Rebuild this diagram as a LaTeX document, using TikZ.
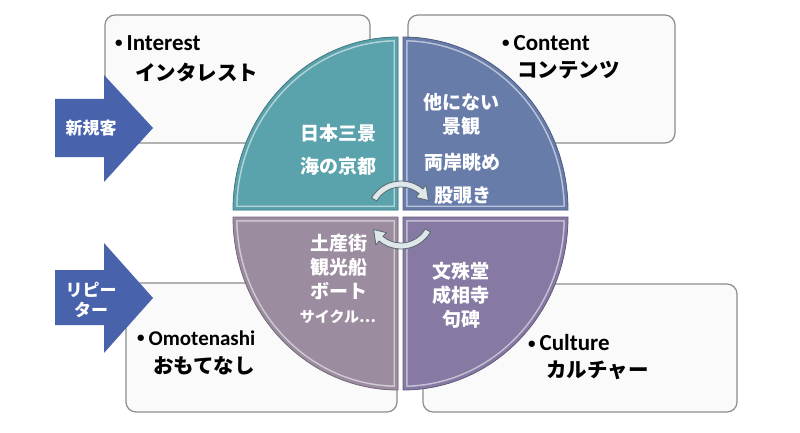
\documentclass[tikz,border=0pt]{standalone}
\usepackage{fontspec}
\setmainfont{Carlito}
\newfontfamily\jp{Noto Sans CJK JP}
\definecolor{qteal}{RGB}{90,162,172}
\definecolor{qblue}{RGB}{104,124,170}
\definecolor{qmauve}{RGB}{155,140,160}
\definecolor{qpurple}{RGB}{134,121,164}
\definecolor{arblue}{RGB}{72,98,172}
\definecolor{boxfill}{RGB}{250,250,250}
\definecolor{boxline}{RGB}{140,140,140}
\definecolor{rotfill}{RGB}{222,232,234}
\definecolor{rotline}{RGB}{90,104,110}
\newcommand{\dotmark}{\raisebox{2.5pt}{\fontsize{15}{15}\selectfont•}\hspace{4pt}}
\begin{document}
\begin{tikzpicture}[x=1pt,y=-1pt,
    card/.style={draw=boxline,fill=boxfill,line width=1.2pt,rounded corners=10pt},
    push/.style={fill=arblue},
    head/.style={font=\bfseries\fontsize{23}{26}\selectfont,inner sep=0pt,anchor=west},
    kana/.style={font=\jp\bfseries\fontsize{20.5}{24}\selectfont,inner sep=0pt,anchor=west},
    spot/.style={font=\jp\bfseries\fontsize{19}{24}\selectfont,text=white,inner sep=0pt,
        align=center},
    tag/.style={font=\jp\bfseries\fontsize{17}{20}\selectfont,text=white,inner sep=0pt,
        align=center},
    rot/.style={fill=rotfill,draw=rotline,line width=0.8pt}
]
    \useasboundingbox (0,0) rectangle (800,433);

    \draw[card] (105,15) rectangle (370,143);
    \draw[card] (408,15) rectangle (675,143);
    \draw[card] (126,283) rectangle (397,412);
    \draw[card] (423,284) rectangle (737,412);

    \fill[push] (55,99) -- (104,99) -- (104,75) -- (153,128) -- (104,182)
        -- (104,157) -- (55,157) -- cycle;
    \fill[push] (55,270) -- (104,270) -- (104,243) -- (153,298) -- (104,353)
        -- (104,325) -- (55,325) -- cycle;

    \foreach \cx/\cy/\a/\col in {398/210/180/qteal,403/210/270/qblue,
        398/217/90/qmauve,403/217/0/qpurple}{
        \def\qpath{(\cx,\cy) -- ++(\a:165 and 173)
            arc[start angle=\a,delta angle=90,x radius=165,y radius=173] -- cycle}
        \fill[\col] \qpath;
        \begin{scope}
            \clip \qpath;
            \draw[line width=9pt,white!55!\col] \qpath;
            \draw[line width=6pt,\col] \qpath;
        \end{scope}
        \draw[\col!75!black,line width=0.8pt] \qpath;
    }

    \begin{scope}[shift={(401,215)}]
        \draw[rot] (210:28) arc (210:310:28) -- (310:23) -- (332:31)
            -- (310:39) -- (310:34) arc (310:210:34) -- cycle;
        \draw[rot] (30:28) arc (30:130:28) -- (130:23) -- (152:31)
            -- (130:39) -- (130:34) arc (130:30:34) -- cycle;
    \end{scope}

    \node[head] (intr) at (115,43) {\dotmark Interest};
    \node[kana] (intrjp) at (135,73) {インタレスト};
    \node[head] (cont) at (502,43) {\dotmark Content};
    \node[kana] (contjp) at (517,70) {コンテンツ};
    \node[head,font=\bfseries\fontsize{21}{24}\selectfont] (omo) at (137,338)
        {\dotmark Omotenashi};
    \node[kana] (omojp) at (153,366) {おもてなし};
    \node[head] (cult) at (528,343) {\dotmark Culture};
    \node[kana] (cultjp) at (546,370) {カルチャー};

    \node[tag] (newc) at (91,128) {新規客};
    \node[tag] (rept) at (91,300) {リピー\\ター};

    \node[spot] (tl1) at (338,133) {日本三景};
    \node[spot] (tl2) at (338,166) {海の京都};
    \node[spot] (tr1) at (461,114) {他にない\\景観};
    \node[spot] (tr2) at (462,162) {両岸眺め};
    \node[spot] (tr3) at (463,196) {股覗き};
    \node[spot] (bl1) at (339,267) {土産街\\観光船\\ボート};
    \node[spot,font=\jp\bfseries\fontsize{15}{18}\selectfont] (bl2) at (338,317) {サイクル…};
    \node[spot] (br1) at (461,295) {文殊堂\\成相寺\\句碑};
\end{tikzpicture}
\end{document}
